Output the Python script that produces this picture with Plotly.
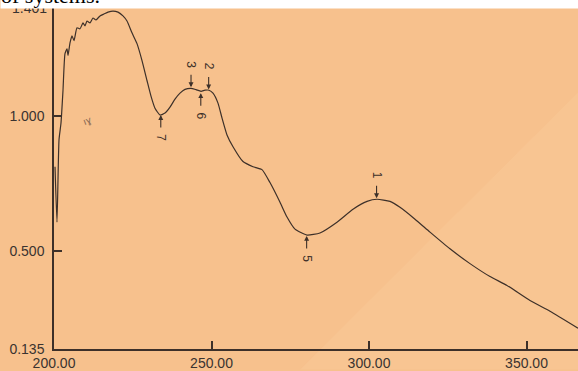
import plotly.graph_objects as go

# ---- data ----
wavelength = [200.32, 200.95, 201.59, 202.22, 202.86, 203.49, 204.13, 204.44, 205.08, 205.71,
              206.35, 207.30, 208.25, 209.21, 209.84, 210.48, 211.43, 212.38, 213.33, 214.60,
              215.87, 217.14, 218.73, 220.32, 221.90, 223.17, 224.76, 226.35, 227.94, 229.52,
              230.79, 232.06, 233.65, 235.24, 236.83, 238.41, 240.00, 241.59, 243.49, 245.08,
              246.67, 247.94, 249.21, 250.48, 252.06, 253.33, 254.92, 256.83, 260.00, 263.17,
              266.03, 268.57, 271.75, 273.97, 276.51, 280.32, 284.44, 289.84, 294.92, 299.37,
              302.54, 306.67, 309.84, 314.60, 319.37, 325.71, 332.06, 338.41, 343.81, 351.11,
              357.46, 366.35]
absorbance = [0.812, 0.606, 0.912, 0.974, 1.096, 1.232, 1.250, 1.225, 1.272, 1.298,
              1.280, 1.328, 1.324, 1.346, 1.335, 1.353, 1.346, 1.364, 1.357, 1.372,
              1.379, 1.386, 1.390, 1.386, 1.372, 1.353, 1.309, 1.269, 1.206, 1.132,
              1.074, 1.029, 1.004, 1.011, 1.033, 1.063, 1.085, 1.099, 1.103, 1.098,
              1.092, 1.096, 1.096, 1.085, 1.048, 0.993, 0.930, 0.886, 0.831, 0.812,
              0.801, 0.753, 0.680, 0.625, 0.580, 0.558, 0.566, 0.606, 0.654, 0.683,
              0.691, 0.683, 0.661, 0.617, 0.569, 0.507, 0.452, 0.404, 0.371, 0.315,
              0.275, 0.212]

peak_labels = ["1", "2", "3", "5", "6", "7"]
peak_wl = [302.4, 249.1, 243.5, 280.2, 246.6, 233.9]
peak_abs = [0.695, 1.099, 1.107, 0.555, 1.085, 1.004]
peak_is_max = [True, True, True, False, False, False]

x_tick_vals = [200, 250, 300, 350]
x_tick_text = ["200.00", "250.00", "300.00", "350.00"]
y_tick_vals = [0.135, 0.5, 1.0]
y_tick_text = ["0.135", "0.500", "1.000"]
y_top_value = 1.401
y_top_text = "1.401"

BG = "#f7c18d"
BG_LIGHT = "#f8c592"
INK = "#3d3029"
FONT = "Liberation Sans, Arial, sans-serif"

fig = go.Figure()
fig.add_trace(go.Scatter(
    x=wavelength, y=absorbance, mode="lines",
    line=dict(color=INK, width=1.2, shape="spline", smoothing=0.5),
    showlegend=False, hoverinfo="skip"))

annotations = []
for lab, wl, ab, is_max in zip(peak_labels, peak_wl, peak_abs, peak_is_max):
    sgn = -1 if is_max else 1
    annotations.append(dict(
        x=wl, y=ab, xref="x", yref="y", text="", showarrow=True,
        ax=0, ay=sgn * 14, arrowhead=2, arrowsize=0.9, arrowwidth=1.1,
        arrowcolor=INK, standoff=0))
    annotations.append(dict(
        x=wl, y=ab, xref="x", yref="y", text=lab, showarrow=False,
        yshift=-sgn * 23, textangle=90,
        font=dict(family=FONT, size=12, color=INK)))

# small scan mark
annotations.append(dict(x=210.5, y=0.985, xref="x", yref="y", text="ıɣ",
                        showarrow=False, textangle=-20,
                        font=dict(family=FONT, size=10, color="#8a6a55")))

# upper y tick label (partly hidden under the page strip)
annotations.append(dict(x=0, y=y_top_value, xref="paper", yref="y", xanchor="right",
                        yanchor="middle", xshift=-5, text=y_top_text, showarrow=False,
                        font=dict(family=FONT, size=14, color="#3a3330")))

# white strip of page text at the top
annotations.append(dict(
    x=-54 / 524, y=0.994, xref="paper", yref="paper", xanchor="left", yanchor="bottom",
    text="of systems.", showarrow=False, align="left", valign="bottom",
    width=620, height=40, bgcolor="white", borderpad=0,
    font=dict(family="Liberation Serif, Times New Roman, serif", size=22, color="black")))

shapes = [dict(type="path", xref="paper", yref="paper", layer="below",
               path="M 0.47 -0.06 L 1.0 0.75 L 1.0 -0.06 Z",
               fillcolor=BG_LIGHT, line=dict(width=0))]

fig.update_layout(
    width=578, height=371, autosize=False,
    margin=dict(l=54, r=0, t=7, b=20, pad=0),
    paper_bgcolor=BG, plot_bgcolor="rgba(0,0,0,0)",
    annotations=annotations, shapes=shapes,
    xaxis=dict(range=[200, 366.35], showgrid=False, zeroline=False,
               showline=True, linecolor=INK, linewidth=1.5,
               ticks="inside", ticklen=8, tickwidth=1.5, tickcolor=INK,
               tickvals=x_tick_vals, ticktext=x_tick_text,
               tickfont=dict(family=FONT, size=14, color="#3a3330")),
    yaxis=dict(range=[0.135, 1.405], showgrid=False, zeroline=False,
               showline=True, linecolor=INK, linewidth=1.5,
               ticks="inside", ticklen=8, tickwidth=1.5, tickcolor=INK,
               tickvals=y_tick_vals, ticktext=y_tick_text,
               ticklabelstandoff=5,
               tickfont=dict(family=FONT, size=14, color="#3a3330")),
)

fig.write_html("out.html")
